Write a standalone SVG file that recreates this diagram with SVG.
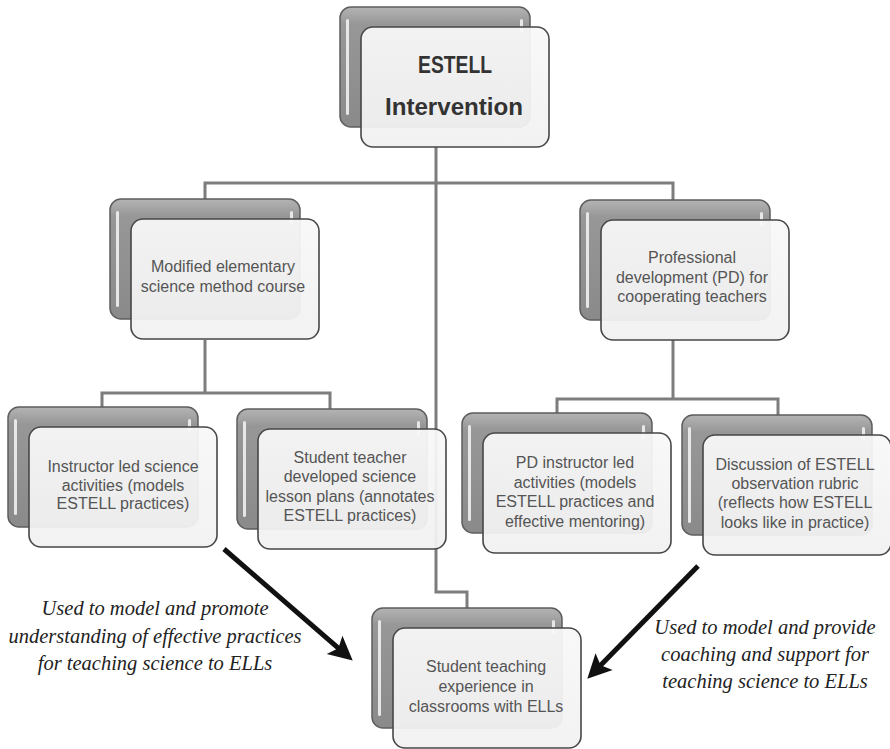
<svg xmlns="http://www.w3.org/2000/svg" width="890" height="749" viewBox="0 0 890 749">
  <defs>
    <linearGradient id="backGrad" x1="0" y1="0" x2="0" y2="1">
      <stop offset="0" stop-color="#b4b4b4"/>
      <stop offset="0.14" stop-color="#979797"/>
      <stop offset="1" stop-color="#8a8a8a"/>
    </linearGradient>
    <linearGradient id="frontGrad" x1="0" y1="0" x2="0" y2="1">
      <stop offset="0" stop-color="#f8f8f8"/>
      <stop offset="1" stop-color="#f1f1f1"/>
    </linearGradient>
    <marker id="arrowHead" markerUnits="userSpaceOnUse" markerWidth="26" markerHeight="26" viewBox="0 0 26 26" refX="14" refY="13" orient="auto">
      <path d="M1,1 L25,13 L1,25 L6,13 Z" fill="#111"/>
    </marker>
    <g id="nodeShape">
      <rect class="back" x="0" y="0" width="190" height="120" rx="11"/>
      <rect class="hl" x="6" y="12" width="3" height="96" rx="1.5"/>
      <rect class="hl" x="180" y="12" width="3" height="14" rx="1.5"/>
      <rect class="front" x="21" y="20" width="188" height="120" rx="12"/>
    </g>
  </defs>
  <style>
    .back { fill: url(#backGrad); stroke: #5e5e5e; stroke-width: 1.5; }
    .hl { fill: #f6f6f6; opacity: 0.85; }
    .front { fill: url(#frontGrad); fill-opacity: 0.94; stroke: #474747; stroke-width: 1.6; }
    .conn { fill: none; stroke: #7d7d7d; stroke-width: 3; }
    .arrow { fill: none; stroke: #111; stroke-width: 5; }
    .label { font-family: "Liberation Sans", Arial, sans-serif; font-size: 16px; fill: #555; text-anchor: middle; }
    .title { font-family: "Liberation Sans", Arial, sans-serif; font-size: 23px; font-weight: bold; fill: #333; text-anchor: middle; }
    .note { font-family: "Liberation Serif", "Times New Roman", serif; font-style: italic; font-size: 20.5px; fill: #222; text-anchor: middle; }
  </style>
  <rect x="0" y="0" width="890" height="749" fill="#ffffff"/>

  <g id="connectors">
    <path class="conn" d="M436,147 V592 H467 V608"/>
    <path class="conn" d="M205,199 V183 H673 V200"/>
    <path class="conn" d="M205,340 V393"/>
    <path class="conn" d="M102,407 V393 H330 V409"/>
    <path class="conn" d="M673,340 V399"/>
    <path class="conn" d="M557,413 V399 H778 V415"/>
    <path class="arrow" d="M224,549 L344.4,653.4" marker-end="url(#arrowHead)"/>
    <path class="arrow" d="M698,566 L595,670.9" marker-end="url(#arrowHead)"/>
  </g>

  <g id="node-estell">
    <use href="#nodeShape" x="340" y="7"/>
    <text class="title" x="455" y="73" textLength="74" lengthAdjust="spacingAndGlyphs">ESTELL</text>
    <text class="title" x="454" y="115" textLength="138" lengthAdjust="spacingAndGlyphs">Intervention</text>
  </g>

  <g id="node-modified">
    <use href="#nodeShape" x="110" y="199"/>
    <text class="label" x="223" y="272">Modified elementary</text>
    <text class="label" x="223" y="292">science method course</text>
  </g>

  <g id="node-pd">
    <use href="#nodeShape" x="580" y="200"/>
    <text class="label" x="692" y="263">Professional</text>
    <text class="label" x="692" y="283">development (PD) for</text>
    <text class="label" x="692" y="302">cooperating teachers</text>
  </g>

  <g id="node-instructor">
    <use href="#nodeShape" x="8" y="407"/>
    <text class="label" x="123" y="472">Instructor led science</text>
    <text class="label" x="123" y="491">activities (models</text>
    <text class="label" x="123" y="509">ESTELL practices)</text>
  </g>

  <g id="node-student-plans">
    <use href="#nodeShape" x="237" y="409"/>
    <text class="label" x="350" y="463">Student teacher</text>
    <text class="label" x="350" y="482">developed science</text>
    <text class="label" x="350" y="502">lesson plans (annotates</text>
    <text class="label" x="350" y="521">ESTELL practices)</text>
  </g>

  <g id="node-pd-instructor">
    <use href="#nodeShape" x="462" y="413"/>
    <text class="label" x="575" y="468">PD instructor led</text>
    <text class="label" x="575" y="488">activities (models</text>
    <text class="label" x="575" y="507">ESTELL practices and</text>
    <text class="label" x="575" y="527">effective mentoring)</text>
  </g>

  <g id="node-discussion">
    <use href="#nodeShape" x="682" y="415"/>
    <text class="label" x="795" y="470">Discussion of ESTELL</text>
    <text class="label" x="795" y="489">observation rubric</text>
    <text class="label" x="795" y="508">(reflects how ESTELL</text>
    <text class="label" x="795" y="528">looks like in practice)</text>
  </g>

  <g id="node-student-teaching">
    <use href="#nodeShape" x="372" y="608"/>
    <text class="label" x="486" y="672">Student teaching</text>
    <text class="label" x="486" y="692">experience in</text>
    <text class="label" x="486" y="712">classrooms with ELLs</text>
  </g>

  <g id="note-left">
    <text class="note" x="155" y="615">Used to model and promote</text>
    <text class="note" x="155" y="643">understanding of effective practices</text>
    <text class="note" x="155" y="670">for teaching science to ELLs</text>
  </g>

  <g id="note-right">
    <text class="note" x="765" y="634">Used to model and provide</text>
    <text class="note" x="765" y="661">coaching and support for</text>
    <text class="note" x="765" y="688">teaching science to ELLs</text>
  </g>
</svg>
